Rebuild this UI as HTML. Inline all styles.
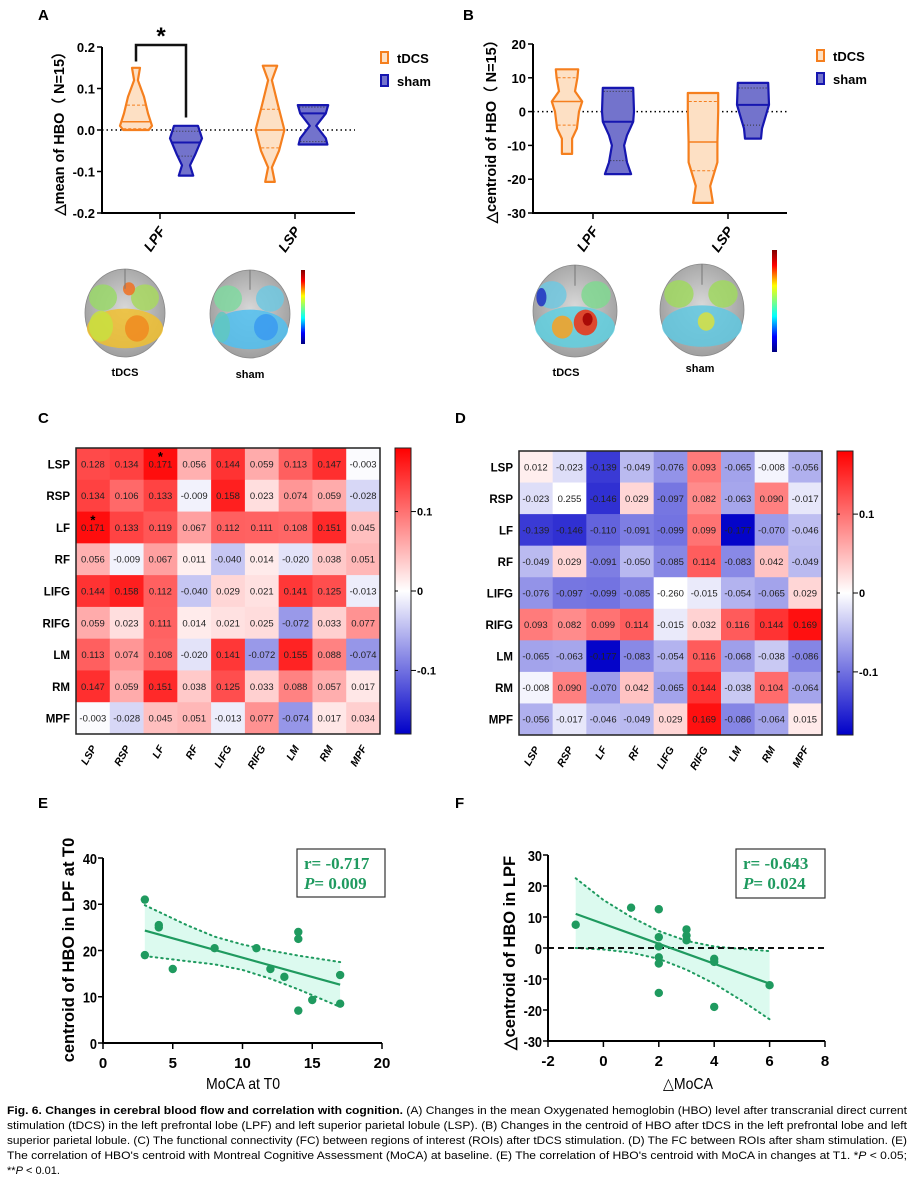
<!DOCTYPE html>
<html><head><meta charset="utf-8"><style>
html,body{margin:0;padding:0;background:#fff}
svg{display:block;font-family:"Liberation Sans",sans-serif}
</style></head><body>
<svg id="fig" width="912" height="1186" viewBox="0 0 912 1186" xmlns="http://www.w3.org/2000/svg">
<defs>
<linearGradient id="cbar" x1="0" y1="0" x2="0" y2="1"><stop offset="0" stop-color="#ff0000"/><stop offset="0.5" stop-color="#ffffff"/><stop offset="1" stop-color="#0000c8"/></linearGradient>
<linearGradient id="jet" x1="0" y1="0" x2="0" y2="1"><stop offset="0" stop-color="#800000"/><stop offset="0.15" stop-color="#ff0000"/><stop offset="0.35" stop-color="#ffff00"/><stop offset="0.5" stop-color="#80ff80"/><stop offset="0.65" stop-color="#00ffff"/><stop offset="0.85" stop-color="#0000ff"/><stop offset="1" stop-color="#000080"/></linearGradient>
<radialGradient id="brainG" cx="0.5" cy="0.45" r="0.6"><stop offset="0" stop-color="#d8d8d8"/><stop offset="1" stop-color="#9a9a9a"/></radialGradient>
</defs>
<g id="root"></g>
</svg>
<script>
// ---------- data ----------
const violinGroups = ["LPF","LSP"];
const violinSeries = ["tDCS","sham"];
// A: [value, halfwidth-fraction] profiles
const aTdcsLPF = [[0.15,0.25],[0.12,0.12],[0.08,0.5],[0.04,0.75],[0.01,1.0],[0.0,0.8]];
const aShamLPF = [[0.01,0.75],[-0.02,1.0],[-0.06,0.56],[-0.085,0.25],[-0.11,0.45]];
const aTdcsLSP = [[0.155,0.45],[0.12,0.12],[0.06,0.5],[0.0,0.9],[-0.05,0.56],[-0.09,0.12],[-0.125,0.3]];
const aShamLSP = [[0.06,0.95],[0.04,0.8],[0.01,0.2],[-0.02,0.8],[-0.035,0.9]];
const aStats = [[0.02,0.003,0.06],[-0.03,-0.003,-0.063],[0.0,0.05,-0.043],[0.04,0.055,-0.028]];
const bTdcsLPF = [[12.5,0.7],[10,0.65],[6,0.5],[3,0.95],[0,0.75],[-5,0.62],[-8,0.32],[-12.5,0.32]];
const bShamLPF = [[7,0.95],[0,1.0],[-3,0.95],[-7,0.56],[-10,0.38],[-15,0.56],[-18.5,0.82]];
const bTdcsLSP = [[5.5,0.95],[0,0.95],[-9,0.9],[-15,0.9],[-22,0.45],[-27,0.62]];
const bShamLSP = [[8.5,0.95],[2,1.0],[-2,0.75],[-5,0.56],[-8,0.5]];
const bStats = [[3,10,-4],[-3,6,-14.5],[-9,3,-17.5],[2,7,-4]];
const aTicks = [0.2,0.1,0.0,-0.1,-0.2];
const aTickLabels = ["0.2","0.1","0.0","-0.1","-0.2"];
const bTicks = [20,10,0,-10,-20,-30];
// heatmaps
const rois = ["LSP","RSP","LF","RF","LIFG","RIFG","LM","RM","MPF"];
const fcTdcs = [
[.128,.134,.171,.056,.144,.059,.113,.147,-.003],
[.134,.106,.133,-.009,.158,.023,.074,.059,-.028],
[.171,.133,.119,.067,.112,.111,.108,.151,.045],
[.056,-.009,.067,.011,-.040,.014,-.020,.038,.051],
[.144,.158,.112,-.040,.029,.021,.141,.125,-.013],
[.059,.023,.111,.014,.021,.025,-.072,.033,.077],
[.113,.074,.108,-.020,.141,-.072,.155,.088,-.074],
[.147,.059,.151,.038,.125,.033,.088,.057,.017],
[-.003,-.028,.045,.051,-.013,.077,-.074,.017,.034]];
const fcSham = [
[.012,-.023,-.139,-.049,-.076,.093,-.065,-.008,-.056],
[-.023,.255,-.146,.029,-.097,.082,-.063,.090,-.017],
[-.139,-.146,-.110,-.091,-.099,.099,-.177,-.070,-.046],
[-.049,.029,-.091,-.050,-.085,.114,-.083,.042,-.049],
[-.076,-.097,-.099,-.085,-.260,-.015,-.054,-.065,.029],
[.093,.082,.099,.114,-.015,.032,.116,.144,.169],
[-.065,-.063,-.177,-.083,-.054,.116,-.068,-.038,-.086],
[-.008,.090,-.070,.042,-.065,.144,-.038,.104,-.064],
[-.056,-.017,-.046,-.049,.029,.169,-.086,-.064,.015]];
const cbarTicks = [0.1,0,-0.1];
const cbarTickLabels = ["0.1","0","-0.1"];
// scatter E
const eX = [3,3,4,4,5,8,11,12,13,14,14,14,15,17,17];
const eY = [31,19,25,25.5,16,20.5,20.5,16,14.3,24,22.5,7,9.3,14.7,8.5];
const eFitX = [3,17];
const eFitY = [24.3,12.6];
const eBandX = [3,6,8,10,12,14,17];
const eBandHi = [29.8,25.5,23,21.3,20,18.9,17.5];
const eBandLo = [18.8,17.7,17,15.8,13.9,11.6,7.8];
const eXTicks = [0,5,10,15,20];
const eYTicks = [0,10,20,30,40];
// scatter F
const fX = [-1,1,2,2,2,2,2,2,3,3,3,4,4,4,6];
const fY = [7.5,13,12.5,3.5,0.5,-3,-5,-14.5,6,4,2.5,-3.5,-4.5,-19,-12];
const fFitX = [-1,6];
const fFitY = [11,-11.5];
const fBandX = [-1,0,1,2,3,4,5,6];
const fBandHi = [22.5,15.5,10,5.5,2.3,0.5,-0.3,-1];
const fBandLo = [0,-0.5,-1.5,-3.5,-7,-11.5,-17,-23];
const fXTicks = [-2,0,2,4,6,8];
const fYTicks = [-30,-20,-10,0,10,20,30];

// ---------- helpers ----------
const NS="http://www.w3.org/2000/svg";
const root=document.getElementById('root');
function el(tag,attrs,parent,txt){const e=document.createElementNS(NS,tag);for(const k in attrs)e.setAttribute(k,attrs[k]);if(txt!==undefined)e.textContent=txt;(parent||root).appendChild(e);return e;}
function grp(name){const g=el('g',{});return g;}
const OR="#f57f1e",ORF="#fde0c4",BL="#1616b0",BLF="#7373cc";

// ---------- violin panels ----------
function violinPanel(cfg){
  const g=grp(cfg.name);
  const ys=v=>cfg.y0+(cfg.vmax-v)/(cfg.vmax-cfg.vmin)*(cfg.y1-cfg.y0);
  // axes
  let a=el('line',{x1:cfg.ax,y1:cfg.y0,x2:cfg.ax,y2:cfg.y1+1,stroke:'#000','stroke-width':2},g);
  
  
  a=el('line',{x1:cfg.ax-1,y1:cfg.y1,x2:cfg.xend,y2:cfg.y1,stroke:'#000','stroke-width':2},g);
  
  
  cfg.ticks.forEach((t,i)=>{
    el('line',{x1:cfg.ax-5,y1:ys(t),x2:cfg.ax,y2:ys(t),stroke:'#000','stroke-width':1.5},g);
    const tx=el('text',{x:cfg.ax-7,y:ys(t)+5,'text-anchor':'end','font-size':13,'font-weight':'bold'},g,cfg.tickLabels[i]);
    
    
  });
  const zl=el('line',{x1:cfg.ax,y1:ys(0),x2:cfg.xend,y2:ys(0),stroke:'#000','stroke-width':1.5,'stroke-dasharray':'1.5,3'},g);
  
  
  violinGroups.forEach((c,i)=>{
    el('line',{x1:cfg.gx[i],y1:cfg.y1,x2:cfg.gx[i],y2:cfg.y1+6,stroke:'#000','stroke-width':1.5},g);
    const tl=el('text',{x:0,y:0,'font-size':14,'font-weight':'bold','font-style':'italic','text-anchor':'end',transform:`translate(${cfg.gx[i]+6},${cfg.y1+18}) rotate(-55)`},g,c);
    
    
  });
  cfg.violins.forEach((v,k)=>{
    const cx=cfg.vx[k],hw=16,isO=k%2===0;
    const prof=v; let right=[],left=[];
    prof.forEach(p=>{right.push((cx+p[1]*hw).toFixed(1)+','+ys(p[0]).toFixed(1));left.unshift((cx-p[1]*hw).toFixed(1)+','+ys(p[0]).toFixed(1));});
    const top=prof[0],bot=prof[prof.length-1];
    const pts=right.concat(left).join(' ');
    const poly=el('polygon',{points:pts,fill:isO?ORF:BLF,stroke:isO?OR:BL,'stroke-width':2.2,'stroke-linejoin':'round'},g);
    
    
    const st=cfg.stats[k];
    const wAt=val=>{for(let j=0;j<prof.length-1;j++){const a=prof[j],b=prof[j+1];if(val<=a[0]&&val>=b[0]){const t=(a[0]-val)/(a[0]-b[0]||1);return (a[1]+(b[1]-a[1])*t)*hw;}}return hw*0.5;};
    const col=isO?OR:BL;
    el('line',{x1:cx-wAt(st[0]),x2:cx+wAt(st[0]),y1:ys(st[0]),y2:ys(st[0]),stroke:col,'stroke-width':isO?1.5:2},g);
    [1,2].forEach(j=>el('line',{x1:cx-wAt(st[j])+1,x2:cx+wAt(st[j])-1,y1:ys(st[j]),y2:ys(st[j]),stroke:isO?OR:'#333','stroke-width':1,'stroke-dasharray':isO?'3,2':'1,2'},g));
  });
  // legend
  const lg=el('g',{},g);
  
  
  violinSeries.forEach((s,i)=>{
    const y=cfg.legY+i*23;
    el('rect',{x:cfg.legX,y:y-6,width:7,height:11,fill:i?BLF:ORF,stroke:i?BL:OR,'stroke-width':2},lg);
    const t=el('text',{x:cfg.legX+16,y:y+5,'font-size':13,'font-weight':'bold'},lg,s);
    
    
  });
  const yt=el('text',{x:0,y:0,'font-size':14.5,'font-weight':'bold','text-anchor':'middle',transform:`translate(${cfg.titleX},${cfg.titleY}) rotate(-90)`},g,cfg.title);
  
  
  return ys;
}
const ysA=violinPanel({name:'panel-a-violin',ax:102,y0:47,y1:213,vmax:0.2,vmin:-0.2,xend:355,ticks:aTicks,tickLabels:aTickLabels,gx:[160,295],vx:[136,186,270,313],violins:[aTdcsLPF,aShamLPF,aTdcsLSP,aShamLSP],stats:aStats,legX:381,legY:58,title:'△mean of HBO（ N=15）',titleX:64,titleY:130});
const ysB=violinPanel({name:'panel-b-violin',ax:533,y0:44,y1:213,vmax:20,vmin:-30,xend:787,ticks:bTicks,tickLabels:bTicks.map(String),gx:[593,728],vx:[567,618,703,753],violins:[bTdcsLPF,bShamLPF,bTdcsLSP,bShamLSP],stats:bStats,legX:817,legY:56,title:'△centroid of HBO（ N=15）',titleX:496,titleY:128});
// significance bracket
const br=el('path',{d:`M136 ${ysA(0.165)} V45 H186 V${ysA(0.03)}`,fill:'none',stroke:'#111','stroke-width':2.5});


const star=el('text',{x:161,y:44,'font-size':24,'font-weight':'bold','text-anchor':'middle'},root,'*');



// ---------- brains ----------
function brain(cx,cy,rx,ry,blobs,label,lx,ly){
  const g=grp('brain-'+label);
  el('ellipse',{cx:cx,cy:cy,rx:rx,ry:ry,fill:'url(#brainG)',stroke:'#888','stroke-width':0.8},g);
  blobs.forEach(b=>el('ellipse',{cx:cx+b[0]*rx,cy:cy+b[1]*ry,rx:b[2]*rx,ry:b[3]*ry,fill:b[4],opacity:0.85},g));
  el('line',{x1:cx,y1:cy-ry,x2:cx,y2:cy-ry*0.55,stroke:'#777','stroke-width':1},g);
  const t=el('text',{x:lx,y:ly,'font-size':11,'font-weight':'bold','text-anchor':'middle'},g,label==='sham-a'||label==='sham-b'?'sham':'tDCS');
  
  
}
brain(125,313,40,44,[[-0.55,-0.35,0.35,0.3,'#9ad86a'],[0.5,-0.35,0.35,0.3,'#a8d860'],[0.1,-0.55,0.15,0.15,'#f07020'],[0,0.35,0.95,0.45,'#f0c030'],[0.3,0.35,0.3,0.3,'#f08a20'],[-0.6,0.3,0.3,0.35,'#c8e040']],'tdcs-a',125,376);
brain(250,314,40,44,[[-0.55,-0.35,0.35,0.3,'#80d8a0'],[0.5,-0.35,0.35,0.3,'#70c8e0'],[0,0.35,0.95,0.45,'#50c0f0'],[0.4,0.3,0.3,0.3,'#3a9af0'],[-0.7,0.3,0.2,0.35,'#60c8c0']],'sham-a',250,378);
brain(575,311,42,46,[[-0.55,-0.35,0.35,0.3,'#70c8e0'],[0.5,-0.35,0.35,0.3,'#80d890'],[-0.8,-0.3,0.12,0.2,'#2030c0'],[0,0.35,0.95,0.45,'#60d0e0'],[0.25,0.25,0.28,0.28,'#f03010'],[0.3,0.18,0.12,0.14,'#a00000'],[-0.3,0.35,0.25,0.25,'#f8a020']],'tdcs-b',566,376);
brain(702,310,42,46,[[-0.55,-0.35,0.35,0.3,'#a0d860'],[0.5,-0.35,0.35,0.3,'#a0d860'],[0,0.35,0.95,0.45,'#60c8e0'],[0.1,0.25,0.2,0.2,'#d8e040']],'sham-b',700,372);
let cb=el('rect',{x:301,y:270,width:4,height:74,fill:'url(#jet)'});


cb=el('rect',{x:772,y:250,width:5,height:102,fill:'url(#jet)'});



// ---------- heatmaps ----------
function color(v){
  if(Math.abs(v)>0.2)return '#ffffff';
  let t=Math.max(-1,Math.min(1,v/0.18));
  if(t>=0){const c=Math.round(255*(1-t));return `rgb(255,${c},${c})`;}
  const c=Math.round(255*(1+t));return `rgb(${c},${c},${Math.round(255+55*t)})`;
}
function heatmap(name,data,x0,y0,x1,y1,cbx,stars){
  const g=grp(name);
  const n=rois.length,cw=(x1-x0)/n,ch=(y1-y0)/n;
  data.forEach((row,r)=>row.forEach((v,c)=>{
    const rc=el('rect',{x:x0+c*cw,y:y0+r*ch,width:cw+0.3,height:ch+0.3,fill:color(v)},g);
    
    
    const tx=el('text',{x:x0+(c+0.5)*cw,y:y0+(r+0.5)*ch+3.5,'font-size':9.5,'text-anchor':'middle',fill:'#222'},g,v.toFixed(3).replace('0.','0.'));
    
    
  }));
  el('rect',{x:x0,y:y0,width:x1-x0,height:y1-y0,fill:'none',stroke:'#222','stroke-width':1.5},g);
  stars.forEach(s=>{const st=el('text',{x:x0+(s[1]+0.5)*cw,y:y0+s[0]*ch+13,'font-size':13,'font-weight':'bold','text-anchor':'middle'},g,'*');
    
    });
  rois.forEach((r,i)=>{
    const rl=el('text',{x:x0-6,y:y0+(i+0.5)*ch+4.5,'font-size':11.5,'font-weight':'bold','text-anchor':'end'},g,r);
    
    
    const cl=el('text',{x:0,y:0,'font-size':10.5,'font-weight':'bold','font-style':'italic','text-anchor':'end',transform:`translate(${x0+(i+0.5)*cw+4},${y1+14}) rotate(-60)`},g,r);
    
    
  });
  const cbr=el('rect',{x:cbx,y:y0,width:16,height:y1-y0,fill:'url(#cbar)',stroke:'#222','stroke-width':1},g);
  
  
  const cy=v=>y0+(0.18-v)/0.36*(y1-y0);
  cbarTicks.forEach((t,i)=>{
    el('line',{x1:cbx+16,x2:cbx+21,y1:cy(t),y2:cy(t),stroke:'#000'},g);
    el('line',{x1:cbx,x2:cbx+3,y1:cy(t),y2:cy(t),stroke:'#000'},g);
    const ct=el('text',{x:cbx+22,y:cy(t)+4,'font-size':11,'font-weight':'bold'},g,cbarTickLabels[i]);
    
    
  });
}
heatmap('heatmap-c-tdcs',fcTdcs,76,448,380,734,395,[[0,2],[2,0]]);
heatmap('heatmap-d-sham',fcSham,519,451,822,735,837,[]);

// ---------- scatter panels ----------
function scatter(cfg){
  const g=grp(cfg.name);
  const sx=v=>cfg.x0+(v-cfg.xmin)/(cfg.xmax-cfg.xmin)*(cfg.x1-cfg.x0);
  const sy=v=>cfg.y1-(v-cfg.ymin)/(cfg.ymax-cfg.ymin)*(cfg.y1-cfg.y0);
  const hi=cfg.bx.map((x,i)=>sx(x).toFixed(1)+','+sy(cfg.bh[i]).toFixed(1));
  const lo=cfg.bx.map((x,i)=>sx(x).toFixed(1)+','+sy(cfg.bl[i]).toFixed(1)).reverse();
  const band=el('polygon',{points:hi.concat(lo).join(' '),fill:'#dcfaef'},g);
  
  
  [cfg.bh,cfg.bl].forEach(arr=>{const l=el('polyline',{points:cfg.bx.map((x,i)=>sx(x)+','+sy(arr[i])).join(' '),fill:'none',stroke:'#1f9a5f','stroke-width':2,'stroke-dasharray':'1.5,4','stroke-linecap':'round'},g);
    
    });
  if(cfg.zero){const z=el('line',{x1:sx(cfg.xmin),x2:sx(cfg.xmax),y1:sy(0),y2:sy(0),stroke:'#111','stroke-width':2,'stroke-dasharray':'6,4'},g);
    
    }
  const fl=el('line',{x1:sx(cfg.fx[0]),y1:sy(cfg.fy[0]),x2:sx(cfg.fx[1]),y2:sy(cfg.fy[1]),stroke:'#1f9a5f','stroke-width':2.2},g);
  
  
  cfg.xs.forEach((x,i)=>{const p=el('circle',{cx:sx(x),cy:sy(cfg.ys[i]),r:4.2,fill:'#1f9a5f'},g);
    
    });
  el('line',{x1:cfg.x0,y1:cfg.y0,x2:cfg.x0,y2:cfg.y1+1,stroke:'#000','stroke-width':2},g);
  el('line',{x1:cfg.x0-1,y1:cfg.y1,x2:cfg.x1,y2:cfg.y1,stroke:'#000','stroke-width':2},g);
  cfg.yt.forEach(t=>{el('line',{x1:cfg.x0-5,x2:cfg.x0,y1:sy(t),y2:sy(t),stroke:'#000','stroke-width':1.5},g);
    const tl=el('text',{x:cfg.x0-6,y:sy(t)+6,'font-size':15,'font-weight':'bold','text-anchor':'end',transform:`translate(${(cfg.x0-6)*0.15},0) scale(0.85,1)`},g,String(t));
    
    });
  cfg.xt.forEach(t=>{el('line',{x1:sx(t),x2:sx(t),y1:cfg.y1,y2:cfg.y1+6,stroke:'#000','stroke-width':1.5},g);
    const tl=el('text',{x:sx(t),y:cfg.y1+25,'font-size':15,'font-weight':'bold','text-anchor':'middle'},g,String(t));
    
    });
  const box=el('rect',{x:cfg.box[0],y:cfg.box[1],width:cfg.box[2],height:cfg.box[3],fill:'#fff',stroke:'#333','stroke-width':1.2},g);
  
  
  const r1=el('text',{x:cfg.box[0]+7,y:cfg.box[1]+20,'font-family':'"Liberation Serif",serif','font-size':17,'font-weight':'bold',fill:'#1f9a5f'},g,cfg.r);
  
  
  const p1=el('text',{x:cfg.box[0]+7,y:cfg.box[1]+40,'font-family':'"Liberation Serif",serif','font-size':17,'font-weight':'bold',fill:'#1f9a5f'},g);
  
  
  el('tspan',{'font-style':'italic'},p1,'P');
  el('tspan',{},p1,cfg.p);
  const xt=el('text',{x:cfg.xtx,y:1089,'font-size':16,'text-anchor':'middle',transform:`translate(${cfg.xtx*0.12},0) scale(0.88,1)`},g,cfg.xtitle);
  
  
  const yt=el('text',{x:0,y:0,'font-size':16.5,'font-weight':'bold','text-anchor':'middle',transform:`translate(${cfg.ytx},${cfg.yty}) rotate(-90)`},g,cfg.ytitle);
  
  
}
scatter({name:'panel-e-scatter',x0:103,x1:382,xmin:0,xmax:20,y0:858,y1:1043,ymin:0,ymax:40,xs:eX,ys:eY,fx:eFitX,fy:eFitY,bx:eBandX,bh:eBandHi,bl:eBandLo,xt:eXTicks,yt:eYTicks,box:[297,849,88,48],r:'r= -0.717',p:'= 0.009',xtitle:'MoCA at T0',xtx:243,ytitle:'centroid of HBO in LPF at T0',ytx:74,yty:950,zero:false});
scatter({name:'panel-f-scatter',x0:548,x1:825,xmin:-2,xmax:8,y0:855,y1:1041,ymin:-30,ymax:30,xs:fX,ys:fY,fx:fFitX,fy:fFitY,bx:fBandX,bh:fBandHi,bl:fBandLo,xt:fXTicks,yt:fYTicks,box:[736,849,89,49],r:'r= -0.643',p:'= 0.024',xtitle:'△MoCA',xtx:688,ytitle:'△centroid of HBO in LPF',ytx:515,yty:953,zero:true});

// panel letters
[['A',38,20],['B',463,20],['C',38,423],['D',455,423],['E',38,808],['F',455,808]].forEach(p=>{
  const t=el('text',{x:p[1],y:p[2],'font-size':15,'font-weight':'bold'},root,p[0]);
  
  
});
</script>
<svg width="0" height="0"></svg>
<div style="position:absolute;left:0;top:1098px;width:912px">
<svg width="912" height="88" style="font-family:'Liberation Sans',sans-serif">
<text x="7" y="16" font-size="11" textLength="900" lengthAdjust="spacingAndGlyphs"><tspan font-weight="bold">Fig. 6. Changes in cerebral blood flow and correlation with cognition.</tspan> (A) Changes in the mean Oxygenated hemoglobin (HBO) level after transcranial direct current</text>
<text x="7" y="31" font-size="11" textLength="900" lengthAdjust="spacingAndGlyphs">stimulation (tDCS) in the left prefrontal lobe (LPF) and left superior parietal lobule (LSP). (B) Changes in the centroid of HBO after tDCS in the left prefrontal lobe and left</text>
<text x="7" y="46" font-size="11" textLength="900" lengthAdjust="spacingAndGlyphs">superior parietal lobule. (C) The functional connectivity (FC) between regions of interest (ROIs) after tDCS stimulation. (D) The FC between ROIs after sham stimulation. (E)</text>
<text x="7" y="61" font-size="11" textLength="900" lengthAdjust="spacingAndGlyphs">The correlation of HBO's centroid with Montreal Cognitive Assessment (MoCA) at baseline. (E) The correlation of HBO's centroid with MoCA in changes at T1. *<tspan font-style="italic">P</tspan> &lt; 0.05;</text>
<text x="7" y="76" font-size="11">**<tspan font-style="italic">P</tspan> &lt; 0.01.</text>
</svg></div>
</body></html>
